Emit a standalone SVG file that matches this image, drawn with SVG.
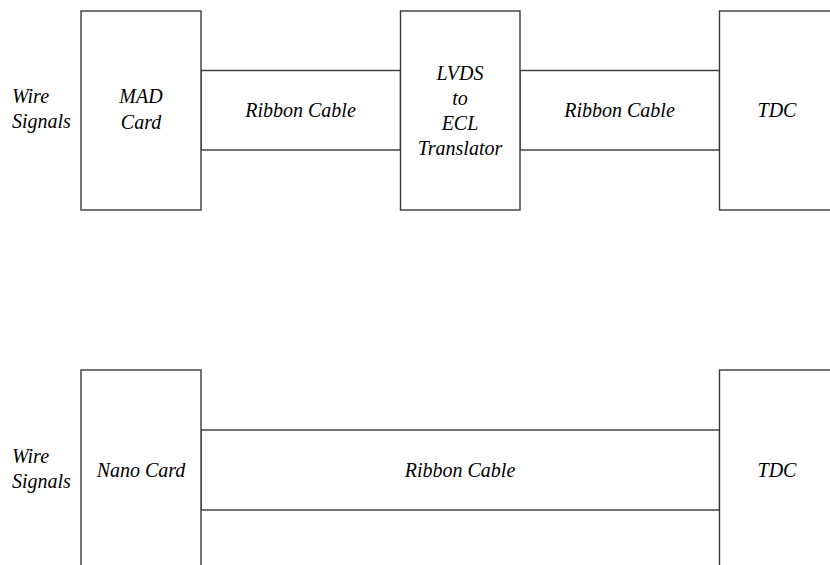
<svg xmlns="http://www.w3.org/2000/svg" width="830" height="565" viewBox="0 0 830 565">
<rect width="830" height="565" fill="#ffffff"/>
<g id="connectors"></g>
<g fill="#ffffff" stroke="#3a3a3a" stroke-width="1.4">
<rect id="ribbon-top-1-box" x="201" y="70.5" width="199.5" height="79.5"/>
<rect id="ribbon-top-2-box" x="520" y="70.5" width="199.5" height="79.5"/>
<rect id="mad-card-box" x="81" y="11" width="120" height="199"/>
<rect id="lvds-box" x="400.5" y="11" width="119.5" height="199"/>
<rect id="tdc-top-box" x="719.5" y="11" width="140" height="199"/>
<rect id="ribbon-bottom-box" x="201" y="430" width="518.5" height="80"/>
<rect id="nano-card-box" x="81" y="370" width="120" height="220"/>
<rect id="tdc-bottom-box" x="719.5" y="370" width="140" height="220"/>
</g>
<g id="wire-top"><text x="12" y="103" font-family="'Liberation Serif', serif" font-style="italic" font-size="20">Wire</text><text x="12" y="128" font-family="'Liberation Serif', serif" font-style="italic" font-size="20">Signals</text></g>
<g id="ribbon-top-1"><text x="300.5" y="117" text-anchor="middle" font-family="'Liberation Serif', serif" font-style="italic" font-size="20">Ribbon Cable</text></g>
<g id="ribbon-top-2"><text x="619.5" y="117" text-anchor="middle" font-family="'Liberation Serif', serif" font-style="italic" font-size="20">Ribbon Cable</text></g>
<g id="mad-card"><text x="141" y="103" text-anchor="middle" font-family="'Liberation Serif', serif" font-style="italic" font-size="20">MAD</text><text x="141" y="129" text-anchor="middle" font-family="'Liberation Serif', serif" font-style="italic" font-size="20">Card</text></g>
<g id="lvds"><text x="460" y="80" text-anchor="middle" font-family="'Liberation Serif', serif" font-style="italic" font-size="20">LVDS</text><text x="460" y="105" text-anchor="middle" font-family="'Liberation Serif', serif" font-style="italic" font-size="20">to</text><text x="460" y="130" text-anchor="middle" font-family="'Liberation Serif', serif" font-style="italic" font-size="20">ECL</text><text x="460" y="155" text-anchor="middle" font-family="'Liberation Serif', serif" font-style="italic" font-size="20">Translator</text></g>
<g id="tdc-top"><text x="777" y="117" text-anchor="middle" font-family="'Liberation Serif', serif" font-style="italic" font-size="20">TDC</text></g>
<g id="wire-bottom"><text x="12" y="463" font-family="'Liberation Serif', serif" font-style="italic" font-size="20">Wire</text><text x="12" y="488" font-family="'Liberation Serif', serif" font-style="italic" font-size="20">Signals</text></g>
<g id="ribbon-bottom"><text x="460" y="477" text-anchor="middle" font-family="'Liberation Serif', serif" font-style="italic" font-size="20">Ribbon Cable</text></g>
<g id="nano-card"><text x="141" y="477" text-anchor="middle" font-family="'Liberation Serif', serif" font-style="italic" font-size="20">Nano Card</text></g>
<g id="tdc-bottom"><text x="777" y="477" text-anchor="middle" font-family="'Liberation Serif', serif" font-style="italic" font-size="20">TDC</text></g>
</svg>
